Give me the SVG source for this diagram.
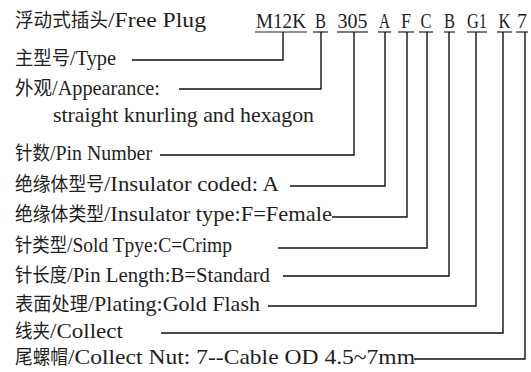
<svg xmlns="http://www.w3.org/2000/svg" width="531" height="372" viewBox="0 0 531 372">
<style>
.cjk{font-family:"Noto Sans CJK SC","Noto Sans CJK JP",sans-serif;font-size:19px;fill:#1e1e1e}
.lat{font-family:"Liberation Serif","Times New Roman",serif;font-size:22px;fill:#1e1e1e}
.code{font-family:"Liberation Serif","Times New Roman",serif;font-size:22px;fill:#1e1e1e;text-anchor:middle}
.ul{stroke:#222;stroke-width:1.2;fill:none}
.con{stroke:#111;stroke-width:1.4;fill:none}
</style>
<rect width="531" height="372" fill="#fff"/>
<g id="title">
<text class="cjk" x="15" y="27" textLength="93" lengthAdjust="spacingAndGlyphs">浮动式插头</text>
<text class="lat" x="108" y="27" textLength="98" lengthAdjust="spacingAndGlyphs">/Free Plug</text>
</g>
<g id="codes">
<g id="code-M12K"><text class="code" x="281" y="28" textLength="50" lengthAdjust="spacingAndGlyphs">M12K</text><line class="ul" x1="255" y1="32" x2="307" y2="32"/></g>
<g id="code-B1"><text class="code" x="320.5" y="28" textLength="11" lengthAdjust="spacingAndGlyphs">B</text><line class="ul" x1="313" y1="32" x2="328" y2="32"/></g>
<g id="code-305"><text class="code" x="352.5" y="28" textLength="30" lengthAdjust="spacingAndGlyphs">305</text><line class="ul" x1="337" y1="32" x2="368" y2="32"/></g>
<g id="code-A"><text class="code" x="384.5" y="28" textLength="11" lengthAdjust="spacingAndGlyphs">A</text><line class="ul" x1="378" y1="32" x2="391" y2="32"/></g>
<g id="code-F"><text class="code" x="406" y="28" textLength="10" lengthAdjust="spacingAndGlyphs">F</text><line class="ul" x1="398" y1="32" x2="414" y2="32"/></g>
<g id="code-C"><text class="code" x="426" y="28" textLength="11" lengthAdjust="spacingAndGlyphs">C</text><line class="ul" x1="419" y1="32" x2="433" y2="32"/></g>
<g id="code-B2"><text class="code" x="449.5" y="28" textLength="11" lengthAdjust="spacingAndGlyphs">B</text><line class="ul" x1="444" y1="32" x2="455" y2="32"/></g>
<g id="code-G1"><text class="code" x="477" y="28" textLength="20" lengthAdjust="spacingAndGlyphs">G1</text><line class="ul" x1="467" y1="32" x2="487" y2="32"/></g>
<g id="code-K"><text class="code" x="504.5" y="28" textLength="12" lengthAdjust="spacingAndGlyphs">K</text><line class="ul" x1="497" y1="32" x2="512" y2="32"/></g>
<g id="code-7"><text class="code" x="522" y="28" textLength="10" lengthAdjust="spacingAndGlyphs">7</text><line class="ul" x1="516" y1="32" x2="528" y2="32"/></g>
</g>
<g id="type">
<text class="cjk" x="15" y="65" textLength="55" lengthAdjust="spacingAndGlyphs">主型号</text>
<text class="lat" x="70" y="65" textLength="46" lengthAdjust="spacingAndGlyphs">/Type</text>
</g>
<g id="appearance">
<text class="cjk" x="15" y="95" textLength="37" lengthAdjust="spacingAndGlyphs">外观</text>
<text class="lat" x="52" y="95" textLength="108" lengthAdjust="spacingAndGlyphs">/Appearance:</text>
<text class="lat" x="53" y="122" textLength="261" lengthAdjust="spacingAndGlyphs">straight knurling and hexagon</text>
</g>
<g id="pin-number">
<text class="cjk" x="15" y="160" textLength="35" lengthAdjust="spacingAndGlyphs">针数</text>
<text class="lat" x="50" y="160" textLength="102" lengthAdjust="spacingAndGlyphs">/Pin Number</text>
</g>
<g id="insulator-coded">
<text class="cjk" x="15" y="191" textLength="89" lengthAdjust="spacingAndGlyphs">绝缘体型号</text>
<text class="lat" x="104" y="191" textLength="175" lengthAdjust="spacingAndGlyphs">/Insulator coded: A</text>
</g>
<g id="insulator-type">
<text class="cjk" x="15" y="221" textLength="89" lengthAdjust="spacingAndGlyphs">绝缘体类型</text>
<text class="lat" x="104" y="221" textLength="228" lengthAdjust="spacingAndGlyphs">/Insulator type:F=Female</text>
</g>
<g id="sold-type">
<text class="cjk" x="15" y="252" textLength="52" lengthAdjust="spacingAndGlyphs">针类型</text>
<text class="lat" x="67" y="252" textLength="165" lengthAdjust="spacingAndGlyphs">/Sold Tpye:C=Crimp</text>
</g>
<g id="pin-length">
<text class="cjk" x="15" y="282" textLength="52" lengthAdjust="spacingAndGlyphs">针长度</text>
<text class="lat" x="67" y="282" textLength="203" lengthAdjust="spacingAndGlyphs">/Pin Length:B=Standard</text>
</g>
<g id="plating">
<text class="cjk" x="15" y="311" textLength="73" lengthAdjust="spacingAndGlyphs">表面处理</text>
<text class="lat" x="88" y="311" textLength="172" lengthAdjust="spacingAndGlyphs">/Plating:Gold Flash</text>
</g>
<g id="collect">
<text class="cjk" x="15" y="338" textLength="35" lengthAdjust="spacingAndGlyphs">线夹</text>
<text class="lat" x="50" y="338" textLength="73" lengthAdjust="spacingAndGlyphs">/Collect</text>
</g>
<g id="collect-nut">
<text class="cjk" x="15" y="364" textLength="53" lengthAdjust="spacingAndGlyphs">尾螺帽</text>
<text class="lat" x="68" y="364" textLength="347" lengthAdjust="spacingAndGlyphs">/Collect Nut: 7--Cable OD 4.5~7mm</text>
</g>
<g id="connectors">
<polyline class="con" points="283,32 283,60 132,60"/>
<polyline class="con" points="321,32 321,89 179,89"/>
<polyline class="con" points="354,32 354,155 160,155"/>
<polyline class="con" points="385,32 385,186 290,186"/>
<polyline class="con" points="407,32 407,217 332,217"/>
<polyline class="con" points="427,32 427,248 278,248"/>
<polyline class="con" points="449,32 449,276 283,276"/>
<polyline class="con" points="476,32 476,306 268,306"/>
<polyline class="con" points="503,32 503,333 161,333"/>
<polyline class="con" points="525,32 525,359 414,359"/>
</g>
</svg>
